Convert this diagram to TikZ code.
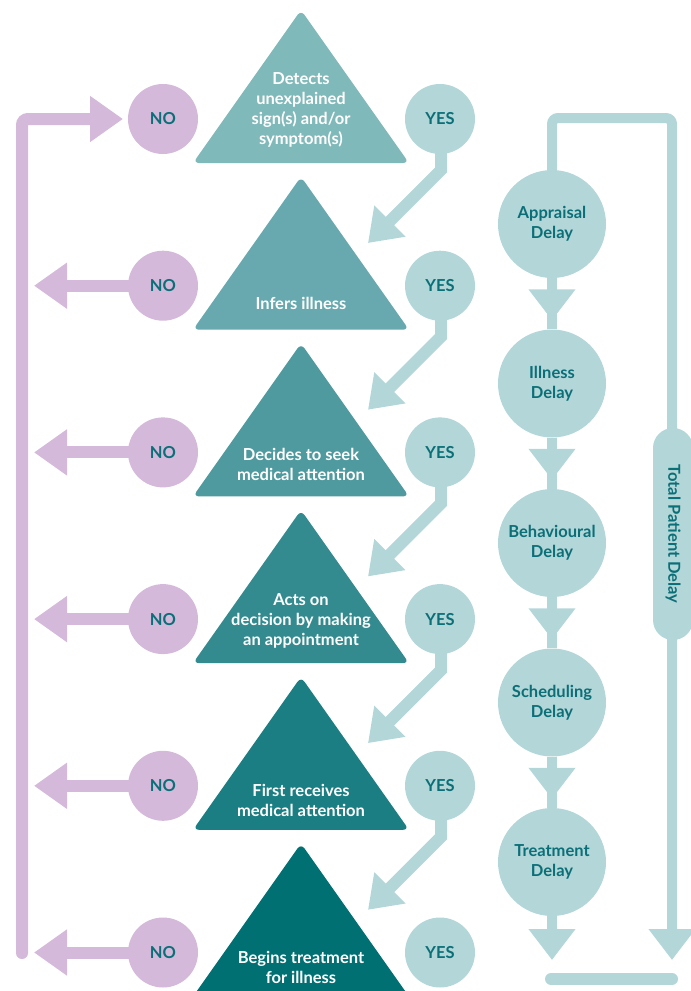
\documentclass[tikz,border=0pt]{standalone}
\usepackage{fontspec}
\setmainfont{Lato}
\usetikzlibrary{arrows.meta}
\definecolor{nocol}{HTML}{D4B9DA}
\definecolor{yescol}{HTML}{B3D6D8}
\definecolor{dtext}{HTML}{0B6F78}
\definecolor{tA}{HTML}{80B9BA}
\definecolor{tB}{HTML}{67A9AE}
\definecolor{tC}{HTML}{4E9A9E}
\definecolor{tD}{HTML}{348B8F}
\definecolor{tE}{HTML}{1A7E82}
\definecolor{tF}{HTML}{007073}
\begin{document}
\begin{tikzpicture}[x=1pt,y=-1pt,
  lbl/.style={font=\bfseries\fontsize{16.5}{20}\selectfont},
  nocirc/.style={lbl,circle,fill=nocol,minimum size=70pt,inner sep=0pt,text=dtext},
  yescirc/.style={lbl,circle,fill=yescol,minimum size=70pt,inner sep=0pt,text=dtext},
  delaycirc/.style={lbl,circle,fill=yescol,minimum size=108pt,inner sep=0pt,text=dtext,align=center},
  tritext/.style={lbl,text=white,align=center,inner sep=0pt},
  pill/.style={lbl,fill=yescol,rounded corners=20pt,minimum width=212pt,minimum height=40pt,rotate=-90,text=dtext,inner sep=0pt},
  noarrow/.style={draw=nocol,line width=12pt,-{Triangle[length=33pt,width=44pt]}},
  yesarrow/.style={draw=yescol,line width=12pt,-{Triangle[length=31pt,width=42pt]}},
  delayline/.style={draw=yescol,line width=10pt},
  delayarrow/.style={draw=yescol,line width=10pt,-{Triangle[length=31pt,width=45pt]}},
  barline/.style={draw=yescol,line width=12pt,line cap=round}
]
\useasboundingbox (0,0) rectangle (691,991);
\clip (0,0) rectangle (691,991);

% triangles
\foreach \i/\c in {0/tA,1/tB,2/tC,3/tD,4/tE,5/tF}{
  \pgfmathsetmacro\oy{166.7*\i}
  \fill[\c, rounded corners=6pt] (301,{10+\oy}) -- (409,{163+\oy}) -- (193,{163+\oy}) -- cycle;
}

% left return line
\coordinate (lb) at (22,953);
\coordinate (lt) at (22,119);
\coordinate (no0tip) at (123,119);
\draw[noarrow,rounded corners=6pt,line cap=round] (lb) -- (lt) -- (no0tip);

% NO arrows (rows 2-6)
\foreach \i in {1,...,5}{
  \pgfmathsetmacro\oy{166.7*\i}
  \coordinate (notip\i) at (34,{119+\oy});
  \coordinate (nost\i) at (163,{119+\oy});
  \draw[noarrow] (nost\i) -- (notip\i);
}

% YES arrows
\foreach \i in {0,...,4}{
  \pgfmathsetmacro\oy{166.7*\i}
  \coordinate (yst\i) at (441,{119+\oy});
  \coordinate (ybend\i) at (441,{170+\oy});
  \coordinate (ytip\i) at (368,{243+\oy});
  \draw[yesarrow] (yst\i) -- (ybend\i) -- (ytip\i);
}

% NO / YES circles
\foreach \i in {0,...,5}{
  \pgfmathsetmacro\oy{166.7*\i}
  \node[nocirc] (no\i) at (163,{119+\oy}) {NO};
  \node[yescirc] (yes\i) at (440,{119+\oy}) {YES};
}

% triangle texts
\node[tritext] (t0) at (301,110) {Detects\\unexplained\\sign(s) and/or\\symptom(s)};
\node[tritext] (t1) at (301,303) {Infers illness};
\node[tritext] (t2) at (301,464) {Decides to seek\\medical attention};
\node[tritext] (t3) at (301,621) {Acts on\\decision by making\\an appointment};
\node[tritext] (t4) at (301,800) {First receives\\medical attention};
\node[tritext] (t5) at (301,967) {Begins treatment\\for illness};

% delay chain
\node[delaycirc] (d1) at (552,224) {Appraisal\\Delay};
\node[delaycirc] (d2) at (552,383.5) {Illness\\Delay};
\node[delaycirc] (d3) at (552,543) {Behavioural\\Delay};
\node[delaycirc] (d4) at (552,702.5) {Scheduling\\Delay};
\node[delaycirc] (d5) at (552,862) {Treatment\\Delay};

\foreach \a/\b in {d1/d2,d2/d3,d3/d4,d4/d5}{
  \draw[delayline] (\a.south) -- (\b.north);
  \draw[delayarrow] (\a.south) -- ([yshift=9pt]\b.north);
}
\coordinate (endA) at (552,960);
\draw[delayarrow] (d5.south) -- (endA);

% total frame
\coordinate (fa) at (552,118);
\coordinate (fb) at (672,118);
\coordinate (endB) at (672,960);
\draw[delayarrow,rounded corners=6pt] (d1.north) -- (fa) -- (fb) -- (endB);
\node[pill] (tpd) at (673,534) {Total Patient Delay};

% bottom bar
\coordinate (bar1) at (551,979);
\coordinate (bar2) at (672,979);
\draw[barline] (bar1) -- (bar2);
\end{tikzpicture}
\end{document}
